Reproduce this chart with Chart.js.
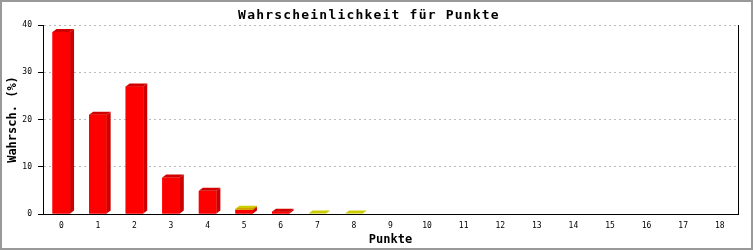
<!DOCTYPE html>
<html lang="de">
<head>
    <meta charset="UTF-8">
    <title>Wahrscheinlichkeit für Punkte</title>
    <script src="https://cdn.jsdelivr.net/npm/chart.js"></script>
    <style>
        body { margin: 0; background: #fff; }
        #chart { display: block; }
    </style>
</head>
<body>
    <canvas id="chart" width="753" height="250"></canvas>
    <script>
        const punkte = ['0', '1', '2', '3', '4', '5', '6', '7', '8', '9', '10', '11', '12', '13', '14', '15', '16', '17', '18'];
        const rot = [38.5, 21.0, 27.0, 7.7, 4.9, 0.9, 0.5, 0, 0, 0, 0, 0, 0, 0, 0, 0, 0, 0, 0];
        const gelb = [0, 0, 0, 0, 0, 0.2, 0, 0.1, 0.1, 0, 0, 0, 0, 0, 0, 0, 0, 0, 0];
        const yTicks = [0, 10, 20, 30, 40];

        const MONO = '"DejaVu Sans Mono", "Liberation Mono", monospace';

        // fake 3D: side + top faces, redrawn per dataset from bottom to top
        const bars3d = {
            id: 'bars3d',
            afterDatasetsDraw(chart) {
                const ctx = chart.ctx;
                const dx = 4, dy = 3;
                chart.data.datasets.forEach((ds, di) => {
                    const meta = chart.getDatasetMeta(di);
                    meta.data.forEach((el, i) => {
                        if (!ds.data[i]) return;
                        const p = el.getProps(['x', 'y', 'base', 'width'], true);
                        const l = p.x - p.width / 2, r = p.x + p.width / 2;
                        ctx.save();
                        ctx.fillStyle = ds.backgroundColor;
                        ctx.fillRect(l, p.y, p.width, p.base - p.y);
                        ctx.fillStyle = ds.sideColor;
                        ctx.beginPath();
                        ctx.moveTo(r, p.y);
                        ctx.lineTo(r + dx, p.y - dy);
                        ctx.lineTo(r + dx, p.base - dy);
                        ctx.lineTo(r, p.base);
                        ctx.closePath();
                        ctx.fill();
                        ctx.fillStyle = ds.topColor;
                        ctx.beginPath();
                        ctx.moveTo(l, p.y);
                        ctx.lineTo(l + dx, p.y - dy);
                        ctx.lineTo(r + dx, p.y - dy);
                        ctx.lineTo(r, p.y);
                        ctx.closePath();
                        ctx.fill();
                        ctx.restore();
                    });
                });
            }
        };

        const frame = {
            id: 'frame',
            beforeDraw(chart) {
                const ctx = chart.ctx;
                ctx.save();
                ctx.fillStyle = '#fff';
                ctx.fillRect(0, 0, chart.width, chart.height);
                ctx.strokeStyle = '#999';
                ctx.lineWidth = 2;
                ctx.strokeRect(1, 1, chart.width - 2, chart.height - 2);
                ctx.restore();
                // wider letters for the title, like the original bitmap font
                const tb = chart.titleBlock;
                if (tb && !tb._spaced) {
                    const draw = tb.draw;
                    tb.draw = function (area) {
                        chart.ctx.save();
                        chart.ctx.letterSpacing = '1.2px';
                        draw.call(this, area);
                        chart.ctx.restore();
                    };
                    tb._spaced = true;
                }
            },
            afterDraw(chart) {
                const {ctx, chartArea} = chart;
                const x = Math.round(chartArea.right) + 0.5;
                ctx.save();
                ctx.strokeStyle = '#000';
                ctx.lineWidth = 1;
                ctx.beginPath();
                ctx.moveTo(x, chartArea.top);
                ctx.lineTo(x, chartArea.bottom);
                ctx.stroke();
                ctx.restore();
            }
        };

        new Chart(document.getElementById('chart'), {
            type: 'bar',
            data: {
                labels: punkte,
                datasets: [
                    { data: rot, backgroundColor: '#ff0000', sideColor: '#cc0000', topColor: '#d00000', stack: 's' },
                    { data: gelb, backgroundColor: '#d4d400', sideColor: '#b0b000', topColor: '#cccc00', stack: 's' }
                ]
            },
            options: {
                responsive: false,
                animation: false,
                events: [],
                layout: { padding: { left: 0, right: 15, top: 0, bottom: 0 } },
                datasets: { bar: { categoryPercentage: 1, barPercentage: 0.48 } },
                plugins: {
                    legend: { display: false },
                    tooltip: { enabled: false },
                    title: {
                        display: true,
                        text: 'Wahrscheinlichkeit für Punkte',
                        color: '#000',
                        font: { family: MONO, size: 13, weight: 'bold' },
                        padding: { top: 7.5, bottom: 1.9 }
                    }
                },
                scales: {
                    x: {
                        stacked: true,
                        grid: { display: false, drawTicks: false },
                        border: { color: '#000', width: 1 },
                        ticks: { color: '#000', font: { family: MONO, size: 8 }, padding: 7, maxRotation: 0, autoSkip: false },
                        title: {
                            display: true, text: 'Punkte', color: '#000',
                            font: { family: MONO, size: 12, weight: 'bold' },
                            padding: { top: 0, bottom: 3 }
                        },
                        afterFit(scale) { scale.height = 36; }
                    },
                    y: {
                        stacked: true,
                        min: 0,
                        max: 40,
                        afterBuildTicks(scale) { scale.ticks = yTicks.map(v => ({ value: v })); },
                        grid: {
                            color: '#bbbbbb',
                            tickColor: '#000',
                            tickLength: 5,
                            tickBorderDash: []
                        },
                        border: { color: '#000', width: 1, dash: [2, 3] },
                        ticks: { color: '#000', font: { family: MONO, size: 8 }, padding: 6 },
                        title: {
                            display: true, text: 'Wahrsch. (%)', color: '#000',
                            font: { family: MONO, size: 12, weight: 'bold' },
                            padding: { top: 6, bottom: 0 }
                        },
                        afterFit(scale) { scale.width = 43; }
                    }
                }
            },
            plugins: [frame, bars3d]
        });
    </script>
</body>
</html>
